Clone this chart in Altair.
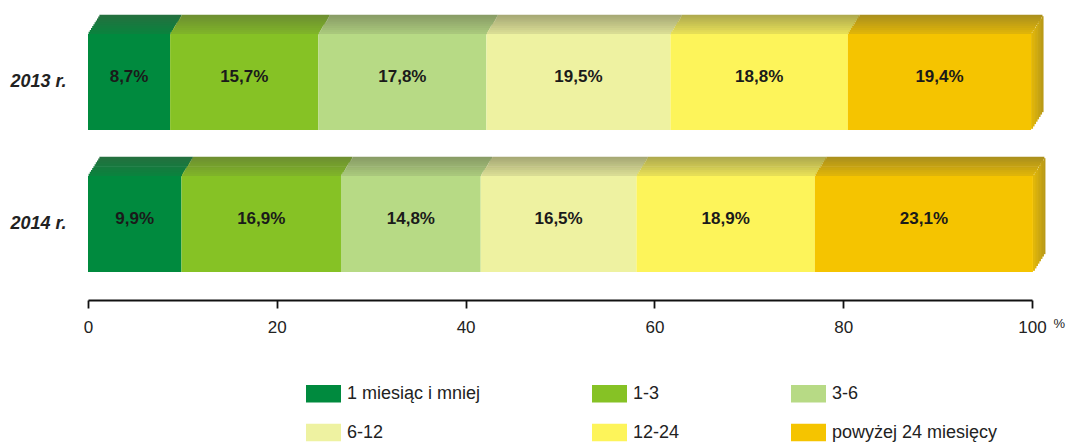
import altair as alt
import pandas as pd

years = ["2013 r.", "2014 r."]
categories = ["1 miesiąc i mniej", "1-3", "3-6", "6-12", "12-24", "powyżej 24 miesięcy"]
values_2013 = [8.7, 15.7, 17.8, 19.5, 18.8, 19.4]
values_2014 = [9.9, 16.9, 14.8, 16.5, 18.9, 23.1]
colors = ["#008a3e", "#86c225", "#b7da85", "#eef2a1", "#fdf45a", "#f5c400"]
x_ticks = [0, 20, 40, 60, 80, 100]

# ---- layout / style constants ----
W, H = 944, 274
P_IN, P_OUT = 0.324, 0.127
STEP = H / (len(years) - P_IN + 2 * P_OUT)
BW = STEP * (1 - P_IN)
DEPTH_X, DEPTH_Y = 12, 19
N_TOP, N_SIDE = 10, 8
FONT = "Arial"


def hex2rgb(h):
    h = h.lstrip("#")
    return [int(h[k:k + 2], 16) for k in (0, 2, 4)]


def rgb2hex(c):
    return "#" + "".join(f"{max(0, min(255, int(round(v)))):02x}" for v in c)


def shade(base, t):
    b = hex2rgb(base)
    dark = [0.55 * v + 0.45 * g for v, g in zip(b, (80, 80, 64))]
    return rgb2hex([v * (1 - t) + d * t for v, d in zip(b, dark)])


rows = []
for year, vals in zip(years, [values_2013, values_2014]):
    start = 0.0
    for i, (cat, v) in enumerate(zip(categories, vals)):
        rows.append(dict(year=year, cat=cat, value=v, start=start, end=start + v,
                         mid=start + v / 2,
                         label=f"{v:.1f}".replace(".", ",") + "%",
                         base=colors[i], last=(i == len(vals) - 1)))
        start += v
df = pd.DataFrame(rows)

x_axis = alt.Axis(values=x_ticks, title="%", grid=False, offset=10,
                  domainColor="#111", domainWidth=1.8,
                  tickColor="#111", tickWidth=1.8, tickSize=8,
                  labelFontSize=17, labelColor="#222", labelPadding=11,
                  labelFont=FONT, labelFlush=False, labelBound=False,
                  titleX=965, titleY=23, titleAlign="left",
                  titleBaseline="middle", titleFontWeight="normal",
                  titleFontSize=13, titleColor="#222", titleFont=FONT)
x_scale = alt.Scale(domain=[0, 100], nice=False)


def xe(field):
    return alt.X(field, scale=x_scale, axis=x_axis)


y_enc = alt.Y("year:N",
              scale=alt.Scale(domain=years, paddingInner=P_IN, paddingOuter=P_OUT),
              axis=alt.Axis(title=None, domain=False, ticks=False,
                            labelFontSize=18, labelFontWeight="bold",
                            labelFontStyle="italic", labelColor="#222",
                            labelPadding=22, labelFont=FONT))

layers = []

# top faces (stair-stepped parallelograms)
h = DEPTH_Y / N_TOP
for i in reversed(range(N_TOP)):
    t = 0.3 + 0.7 * i / (N_TOP - 1)
    d = df.assign(c=df["base"].map(lambda b: shade(b, t)))
    off = DEPTH_X * (i + 0.5) / N_TOP
    layers.append(
        alt.Chart(d).mark_bar(height=h + 0.7, xOffset=off, x2Offset=off,
                              yOffset=-(BW / 2 + (i + 0.5) * h))
        .encode(x=xe("start:Q"), x2="end:Q", y=y_enc, fill=alt.Fill("c:N", scale=None))
    )

# right side face of last segment
dl = df[df["last"]]
dx = DEPTH_X / N_SIDE
for j in range(N_SIDE):
    t = 0.25 + 0.55 * j / (N_SIDE - 1)
    d = dl.assign(c=dl["base"].map(lambda b: shade(b, t)))
    layers.append(
        alt.Chart(d).mark_bar(xOffset=j * dx, x2Offset=(j + 1) * dx + 0.5,
                              yOffset=-DEPTH_Y * (j + 0.5) / N_SIDE)
        .encode(x=xe("end:Q"), x2="end:Q", y=y_enc, fill=alt.Fill("c:N", scale=None))
    )

# front faces
front = alt.Chart(df).mark_bar().encode(
    x=xe("start:Q"), x2="end:Q", y=y_enc,
    color=alt.Color("cat:N",
                    scale=alt.Scale(domain=categories, range=colors),
                    legend=alt.Legend(orient="none", legendX=218, legendY=360,
                                      columns=3, direction="horizontal", title=None,
                                      symbolType="M-1,-0.5H1V0.5H-1Z",
                                      symbolSize=1225, symbolStrokeWidth=0,
                                      symbolOpacity=1,
                                      labelFontSize=18, labelColor="#222",
                                      labelFont=FONT, labelLimit=300,
                                      labelOffset=6, columnPadding=111,
                                      rowPadding=12)),
)
layers.append(front)

text = alt.Chart(df).mark_text(font=FONT, fontSize=17, fontWeight="bold",
                               color="#1a1a1a", dy=-5).encode(
    x=xe("mid:Q"), y=y_enc, text="label:N")
layers.append(text)

chart = alt.layer(*layers).properties(
    width=W, height=H,
    autosize=alt.AutoSizeParams(type="none"),
    padding={"left": 80, "top": 8, "right": 35, "bottom": 154},
).configure(font=FONT).configure_view(stroke=None)

chart.save("out.html", embed_options={"renderer": "svg", "actions": False})
